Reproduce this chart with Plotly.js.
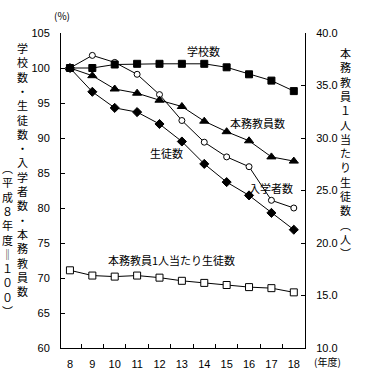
<!DOCTYPE html>
<html><head><meta charset="utf-8">
<script src="https://cdn.plot.ly/plotly-3.0.1.min.js"></script>
<style>body{margin:0;background:#fff}#c{width:385px;height:379px}</style>
</head><body><div id="c"></div>
<script>
const years = [8,9,10,11,12,13,14,15,16,17,18];
const schools = [100,100,100.5,100.6,100.6,100.6,100.6,100.1,99.1,98.2,96.7];
const teachers = [100,98.9,97.0,96.4,95.4,94.5,92.4,90.9,89.6,87.3,86.7];
const students = [100,96.6,94.3,93.7,92.0,89.5,86.3,83.7,81.8,79.3,76.9];
const entrants = [100,101.8,100.8,99.1,96.2,92.5,89.4,87.3,85.9,81.1,80.0];
const perTeacher = [17.4,16.9,16.8,16.9,16.7,16.4,16.2,16.0,15.8,15.7,15.3];

const jp = 'Noto Sans CJK JP, Liberation Sans, sans-serif';
const line = {color:'#000', width:1};
function tr(y, sym, size, yaxis, fill){
  return {x: years, y: y, type:'scatter', mode:'lines+markers', yaxis: yaxis||'y',
    line: line, marker:{symbol: sym, size: size, color: fill?'#000':'#fff', line:{color:'#000', width:1}},
    showlegend:false, hoverinfo:'skip'};
}
const data = [
  tr(perTeacher, 'square', 7, 'y2', false),
  tr(entrants, 'circle', 6, 'y', false),
  tr(students, 'diamond', 7, 'y', true),
  tr(teachers, 'triangle-up', 8, 'y', true),
  tr(schools, 'square', 7, 'y', true)
];
function vert(s){ return Array.from(s).join('<br>'); }
const base = {showarrow:false, xanchor:'center', yanchor:'middle', font:{family:jp, size:11, color:'#000'}};
const ann = [
  {text:'学校数', x:13.98, y:102.4},
  {text:'本務教員数', x:16.39, y:92.1},
  {text:'生徒数', x:12.33, y:87.9},
  {text:'入学者数', x:16.97, y:82.9},
  {text:'本務教員1人当たり生徒数', x:12.54, y:72.6}
].map(a => Object.assign({xref:'x', yref:'y'}, base, a));
ann.push(
  Object.assign({}, base, {text:vert('学校数・生徒数・入学者数・本務教員数'), xref:'paper', yref:'paper', x:-0.156, y:0.568}),
  Object.assign({}, base, {text:vert('︵平成８年度‖１００︶'), xref:'paper', yref:'paper', x:-0.221, y:0.343}),
  Object.assign({}, base, {text:vert('本務教員１人当たり生徒数︵人︶'), xref:'paper', yref:'paper', x:1.164, y:0.619}),
  Object.assign({}, base, {text:'(%)', xref:'paper', yref:'paper', x:0.004, y:1.054, font:{family:jp, size:10, color:'#000'}}),
  Object.assign({}, base, {text:'(年度)', xref:'paper', yref:'paper', x:1.094, y:-0.044, font:{family:jp, size:10, color:'#000'}})
);
const layout = {
  width:385, height:379, margin:{l:61, r:80, t:33, b:31},
  paper_bgcolor:'#fff', plot_bgcolor:'#fff',
  font:{family:'Liberation Sans, Arial, sans-serif', size:11, color:'#000'},
  showlegend:false,
  xaxis:{range:[7.6,18.5], tickvals:years, ticktext:years.map(String), ticks:'', showgrid:false, zeroline:false,
    showline:true, linecolor:'#000', linewidth:1, ticklabelstandoff:6,
    minor:{tickvals:[8.5,9.5,10.5,11.5,12.5,13.5,14.5,15.5,16.5,17.5], ticks:'inside', ticklen:4, tickcolor:'#000', showgrid:false}},
  yaxis:{range:[60,105], dtick:5, tick0:60, ticks:'inside', ticklen:4, tickcolor:'#000', showgrid:false, zeroline:false,
    showline:true, linecolor:'#000', linewidth:1, ticklabelstandoff:8},
  yaxis2:{range:[10,40], dtick:5, tick0:10, tickformat:'.1f', overlaying:'y', side:'right', ticks:'inside', ticklen:4, tickcolor:'#000',
    showgrid:false, zeroline:false, showline:true, linecolor:'#000', linewidth:1, ticklabelstandoff:8},
  annotations: ann
};
Plotly.newPlot('c', data, layout, {displayModeBar:false, staticPlot:true});
</script></body></html>
